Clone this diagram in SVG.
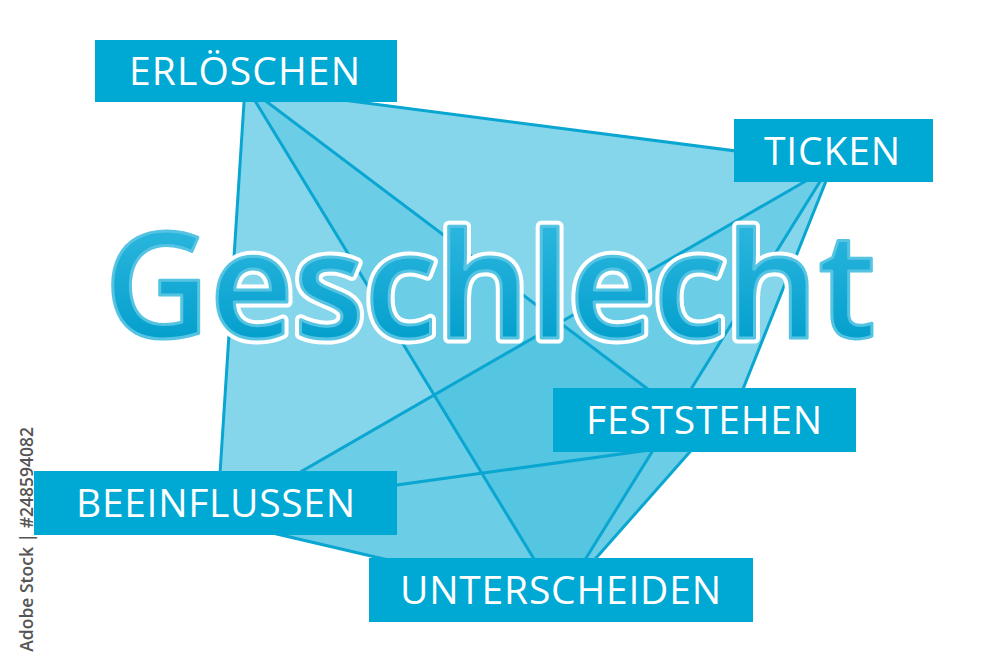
<svg xmlns="http://www.w3.org/2000/svg" width="1000" height="667" viewBox="0 0 1000 667">
  <defs>
    <linearGradient id="tg" gradientUnits="userSpaceOnUse" x1="0" y1="225" x2="0" y2="342">
      <stop offset="0" stop-color="#2bb6de"/>
      <stop offset="1" stop-color="#049fcd"/>
    </linearGradient>
    <style>
      .hull { fill: #00a8d4; fill-opacity: 0.475; }
      .shade { fill: #00a8d4; fill-opacity: 0.2; }
      .conn line { stroke: #0aa6d2; stroke-width: 3; stroke-linecap: round; }
      .box { fill: #00a8d4; }
      .lbl { font-family: "Open Sans", "Noto Sans", "Liberation Sans", sans-serif; font-size: 39px; fill: #ffffff; }
      .title { font-family: "Open Sans", "Noto Sans", "Liberation Sans", sans-serif; font-size: 146px; font-weight: 600; }
    </style>
  </defs>
  <rect width="1000" height="667" fill="#ffffff"/>

  <g id="fills">
    <polygon class="hull" points="246,86 834,164 741,394 559,600 217,520"/>
    <polygon class="shade" points="246,86 653,393 741,394 559,600"/>
    <polygon class="shade" points="830,167 217,520 559,600"/>
  </g>

  <g id="connectors" class="conn">
    <line x1="245" y1="87" x2="217" y2="520"/>
    <line x1="246" y1="86" x2="559" y2="600"/>
    <line x1="246" y1="86" x2="653" y2="393"/>
    <line x1="246" y1="87.4" x2="834" y2="163.7"/>
    <line x1="830" y1="167" x2="217" y2="520"/>
    <line x1="829" y1="167" x2="560" y2="600"/>
    <line x1="836" y1="156" x2="741" y2="394"/>
    <line x1="741" y1="394" x2="559" y2="600"/>
    <line x1="217" y1="510" x2="700" y2="443"/>
    <line x1="217" y1="520" x2="559" y2="600"/>
  </g>

  <g id="title">
    <text class="title" x="104" y="338" textLength="772" lengthAdjust="spacing" fill="#ffffff" stroke="#ffffff" stroke-width="11" stroke-linejoin="round">Geschlecht</text>
    <text class="title" x="104" y="338" textLength="772" lengthAdjust="spacing" fill="url(#tg)" stroke="#55c3e2" stroke-width="3" stroke-linejoin="round">Geschlecht</text>
  </g>

  <g id="node-erloeschen">
    <rect class="box" x="95" y="40" width="302" height="62"/>
    <text class="lbl" x="129" y="85" textLength="231" lengthAdjust="spacing">ERLÖSCHEN</text>
  </g>
  <g id="node-ticken">
    <rect class="box" x="734" y="119" width="199" height="63"/>
    <text class="lbl" x="764" y="165" textLength="136" lengthAdjust="spacing">TICKEN</text>
  </g>
  <g id="node-feststehen">
    <rect class="box" x="553" y="388" width="303" height="64"/>
    <text class="lbl" x="586" y="434" textLength="236" lengthAdjust="spacing">FESTSTEHEN</text>
  </g>
  <g id="node-beeinflussen">
    <rect class="box" x="34" y="471" width="363" height="64"/>
    <text class="lbl" x="76" y="517" textLength="279" lengthAdjust="spacing">BEEINFLUSSEN</text>
  </g>
  <g id="node-unterscheiden">
    <rect class="box" x="369" y="558" width="384" height="64"/>
    <text class="lbl" x="400" y="604" textLength="321" lengthAdjust="spacing">UNTERSCHEIDEN</text>
  </g>

  <text transform="translate(33,427) rotate(-90)" text-anchor="end" font-family="Open Sans, Noto Sans, Liberation Sans, sans-serif" font-size="17.5" font-weight="600" fill="#555555">Adobe Stock | #248594082</text>
</svg>
